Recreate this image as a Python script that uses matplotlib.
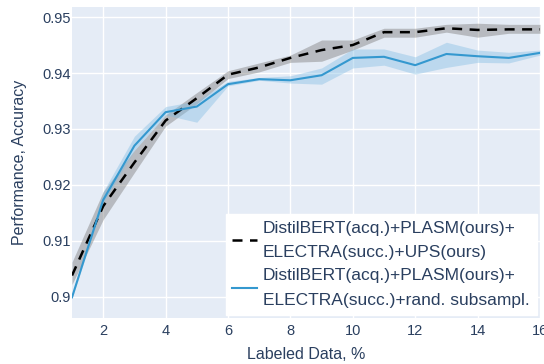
import numpy as np
import matplotlib.pyplot as plt

plt.rcParams['font.family'] = ['Liberation Sans', 'DejaVu Sans']

# labeled data, %
x = [1, 2, 3, 4, 5, 6, 7, 8, 9, 10, 11, 12, 13, 14, 15, 16]

# UPS (dashed)
ups_mean = [0.9038, 0.9162, 0.9240, 0.9315, 0.9355, 0.9397, 0.9410, 0.9427, 0.9441, 0.9450,
            0.9473, 0.9473, 0.9480, 0.9477, 0.9478, 0.9478]
ups_lo = [0.9022, 0.9138, 0.9222, 0.9305, 0.9345, 0.9390, 0.9402, 0.9419, 0.9421, 0.9441,
          0.9464, 0.9464, 0.9473, 0.9464, 0.9471, 0.9471]
ups_hi = [0.9062, 0.9188, 0.9262, 0.9325, 0.9365, 0.9404, 0.9418, 0.9432, 0.9459, 0.9459,
          0.9480, 0.9480, 0.9487, 0.9489, 0.9487, 0.9487]

# random subsampling (solid)
rnd_mean = [0.8999, 0.9173, 0.9270, 0.9330, 0.9340, 0.9380, 0.9389, 0.9387, 0.9396, 0.9427,
            0.9429, 0.9414, 0.9434, 0.9430, 0.9427, 0.9436]
rnd_lo = [0.8997, 0.9168, 0.9262, 0.9325, 0.9312, 0.9377, 0.9387, 0.9382, 0.9380, 0.9409,
          0.9414, 0.9398, 0.9410, 0.9419, 0.9418, 0.9432]
rnd_hi = [0.9001, 0.9188, 0.9287, 0.9340, 0.9350, 0.9385, 0.9392, 0.9395, 0.9409, 0.9443,
          0.9443, 0.9429, 0.9455, 0.9441, 0.9437, 0.9441]

labels = ['DistilBERT(acq.)+PLASM(ours)+\nELECTRA(succ.)+UPS(ours)',
          'DistilBERT(acq.)+PLASM(ours)+\nELECTRA(succ.)+rand. subsampl.']

xticks = [2, 4, 6, 8, 10, 12, 14, 16]
yticks = [0.9, 0.91, 0.92, 0.93, 0.94, 0.95]
ytick_labels = ['0.9', '0.91', '0.92', '0.93', '0.94', '0.95']

text_col = '#2a3f5f'
blue = '#3498cf'

fig = plt.figure(figsize=(5.44, 3.64), dpi=100)
ax = fig.add_axes([72 / 544, 1 - 318 / 364, 468 / 544, 311 / 364])
ax.set_facecolor('#e5ecf6')

ax.fill_between(x, ups_lo, ups_hi, color='#7f7f7f', alpha=0.45, lw=0)
ax.fill_between(x, rnd_lo, rnd_hi, color='#7fbce3', alpha=0.4, lw=0)
ax.plot(x, ups_mean, color='black', ls=(0, (4, 3)), lw=1.8, label=labels[0])
ax.plot(x, rnd_mean, color=blue, lw=1.5, label=labels[1])

ax.set_xlim(1, 16)
ax.set_ylim(0.8962, 0.9518)
ax.set_xticks(xticks)
ax.set_yticks(yticks)
ax.set_yticklabels(ytick_labels)
ax.grid(color='white', lw=1)
ax.set_axisbelow(True)
for s in ax.spines.values():
    s.set_visible(False)
ax.tick_params(axis='y', length=0, labelsize=10.5, colors=text_col, pad=1)
ax.tick_params(axis='x', length=0, labelsize=10.5, colors=text_col, pad=4)

ax.set_xlabel('Labeled Data, %', fontsize=11.5, color=text_col, labelpad=7)
ax.set_ylabel('Performance, Accuracy', fontsize=11.5, color=text_col, labelpad=11)

leg = ax.legend(loc='lower right', fontsize=12.5, frameon=True, fancybox=False,
                framealpha=1, edgecolor='white', borderaxespad=0.2,
                handlelength=1.4, handletextpad=0.35, labelspacing=0.45,
                borderpad=0.4)
for t in leg.get_texts():
    t.set_color(text_col)
    t.set_linespacing(1.8)

fig.savefig('out.png', dpi=100)
